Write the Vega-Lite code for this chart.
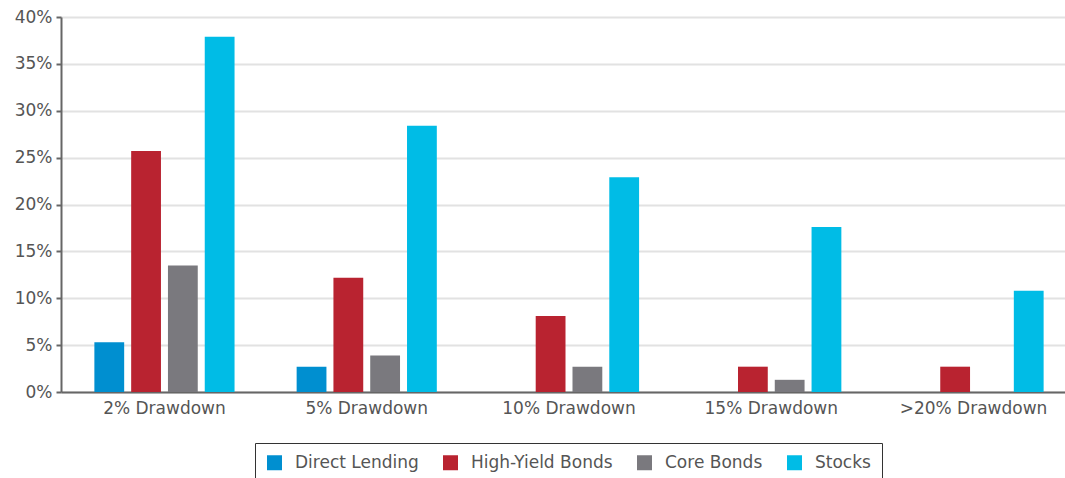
{
  "$schema": "https://vega.github.io/schema/vega-lite/v6.json",
  "width": 1016,
  "height": 375,
  "autosize": {"type": "none"},
  "padding": {"left": 61, "top": 17, "right": 0, "bottom": 86},
  "background": "white",
  "config": {
    "font": "DejaVu Sans",
    "view": {"stroke": null}
  },
  "data": {
    "values": [
      {"drawdown": "2% Drawdown", "asset": "Direct Lending", "value": 5.3},
      {"drawdown": "2% Drawdown", "asset": "High-Yield Bonds", "value": 25.7},
      {"drawdown": "2% Drawdown", "asset": "Core Bonds", "value": 13.5},
      {"drawdown": "2% Drawdown", "asset": "Stocks", "value": 37.9},
      {"drawdown": "5% Drawdown", "asset": "Direct Lending", "value": 2.7},
      {"drawdown": "5% Drawdown", "asset": "High-Yield Bonds", "value": 12.2},
      {"drawdown": "5% Drawdown", "asset": "Core Bonds", "value": 3.9},
      {"drawdown": "5% Drawdown", "asset": "Stocks", "value": 28.4},
      {"drawdown": "10% Drawdown", "asset": "Direct Lending", "value": 0},
      {"drawdown": "10% Drawdown", "asset": "High-Yield Bonds", "value": 8.1},
      {"drawdown": "10% Drawdown", "asset": "Core Bonds", "value": 2.7},
      {"drawdown": "10% Drawdown", "asset": "Stocks", "value": 22.9},
      {"drawdown": "15% Drawdown", "asset": "Direct Lending", "value": 0},
      {"drawdown": "15% Drawdown", "asset": "High-Yield Bonds", "value": 2.7},
      {"drawdown": "15% Drawdown", "asset": "Core Bonds", "value": 1.3},
      {"drawdown": "15% Drawdown", "asset": "Stocks", "value": 17.6},
      {"drawdown": ">20% Drawdown", "asset": "Direct Lending", "value": 0},
      {"drawdown": ">20% Drawdown", "asset": "High-Yield Bonds", "value": 2.7},
      {"drawdown": ">20% Drawdown", "asset": "Core Bonds", "value": 0},
      {"drawdown": ">20% Drawdown", "asset": "Stocks", "value": 10.8}
    ]
  },
  "mark": {"type": "bar"},
  "encoding": {
    "x": {
      "field": "drawdown",
      "type": "nominal",
      "sort": ["2% Drawdown", "5% Drawdown", "10% Drawdown", "15% Drawdown", ">20% Drawdown"],
      "scale": {"paddingInner": 0.307, "paddingOuter": 0.165},
      "axis": {
        "title": null,
        "labelAngle": 0,
        "labelFontSize": 17,
        "labelColor": "#555555",
        "labelPadding": 8,
        "ticks": false,
        "domainColor": "#666666",
        "domainWidth": 2
      }
    },
    "xOffset": {
      "field": "asset",
      "type": "nominal",
      "sort": ["Direct Lending", "High-Yield Bonds", "Core Bonds", "Stocks"],
      "scale": {"paddingInner": 0.19, "paddingOuter": 0}
    },
    "y": {
      "field": "value",
      "type": "quantitative",
      "scale": {"domain": [0, 40]},
      "axis": {
        "title": null,
        "values": [0, 5, 10, 15, 20, 25, 30, 35, 40],
        "labelExpr": "datum.value + '%'",
        "labelFontSize": 17,
        "labelColor": "#555555",
        "labelPadding": 4,
        "tickColor": "#666666",
        "tickSize": 5,
        "tickWidth": 2,
        "domainColor": "#666666",
        "domainWidth": 2,
        "gridColor": "#e2e2e2",
        "gridWidth": 2
      }
    },
    "color": {
      "field": "asset",
      "type": "nominal",
      "sort": ["Direct Lending", "High-Yield Bonds", "Core Bonds", "Stocks"],
      "scale": {
        "domain": ["Direct Lending", "High-Yield Bonds", "Core Bonds", "Stocks"],
        "range": ["#008fd0", "#b92330", "#7a797e", "#00bce6"]
      },
      "legend": {
        "title": null,
        "orient": "none",
        "legendX": 194,
        "legendY": 426,
        "direction": "horizontal",
        "symbolType": "square",
        "symbolSize": 225,
        "symbolStrokeWidth": 0,
        "labelFontSize": 17,
        "labelColor": "#555555",
        "labelOffset": 12,
        "columnPadding": 23,
        "strokeColor": "#333333",
        "padding": 11
      }
    }
  }
}
